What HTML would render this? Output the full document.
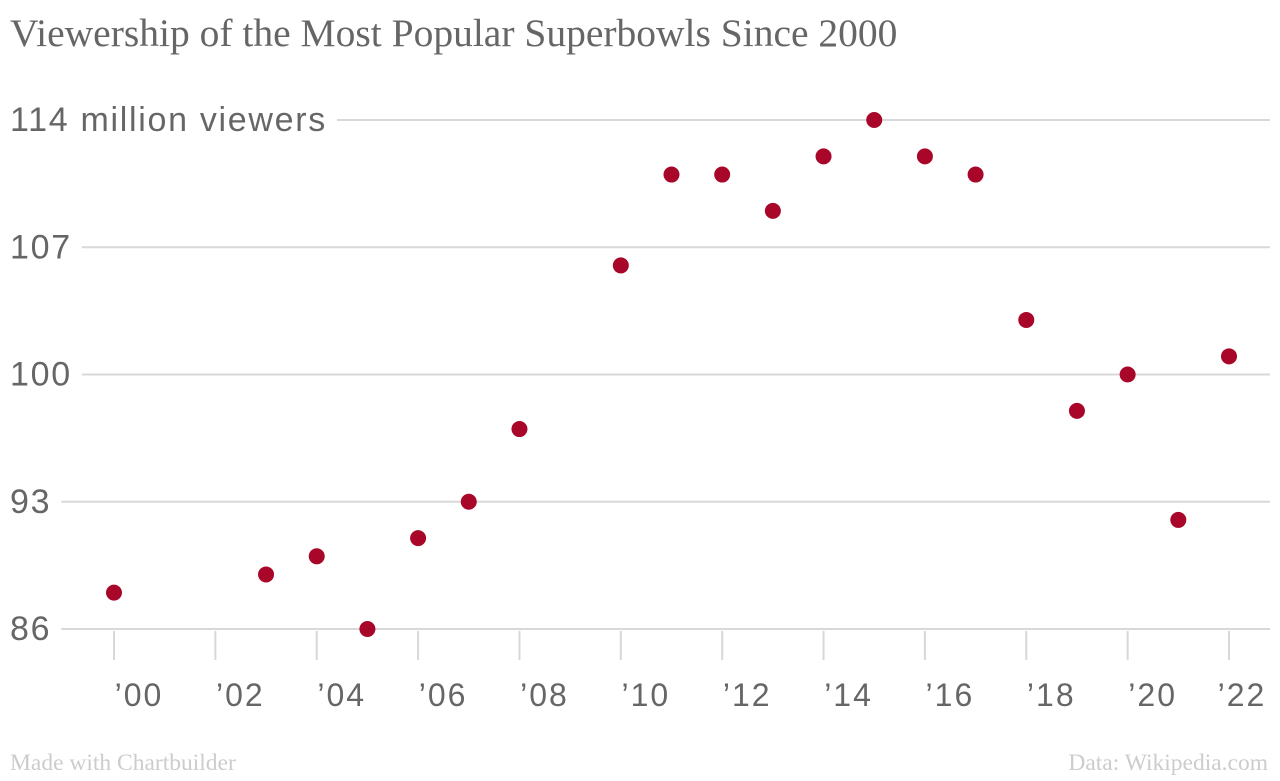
<!DOCTYPE html>
<html><head><meta charset="utf-8"><style>
html,body{margin:0;padding:0;background:#fff;}
svg text{font-family:"Liberation Sans",sans-serif;}
</style></head><body>
<svg id="chart" width="1280" height="776" xmlns="http://www.w3.org/2000/svg">
<text x="10" y="46" style="font-family:'Liberation Serif',serif" font-size="39.5" fill="#666">Viewership of the Most Popular Superbowls Since 2000</text>
<g id="grid"></g>
<g id="xaxis"></g>
<g id="pts"></g>
<text x="10" y="770" style="font-family:'Liberation Serif',serif" font-size="23.5" fill="#ccc">Made with Chartbuilder</text>
<text x="1268" y="770" text-anchor="end" style="font-family:'Liberation Serif',serif" font-size="23.5" fill="#ccc">Data: Wikipedia.com</text>
</svg>
<script>
const years=[2000,2003,2004,2005,2006,2007,2008,2010,2011,2012,2013,2014,2015,2016,2017,2018,2019,2020,2021,2022];
const viewers=[88,89,90,86,91,93,97,106,111,111,109,112,114,112,111,103,98,100,92,101];
const yTicks=[114,107,100,93,86];
const yTickLabels=["114 million viewers","107","100","93","86"];
const xTicks=[2000,2002,2004,2006,2008,2010,2012,2014,2016,2018,2020,2022];
const xTickLabels=["\u201900","\u201902","\u201904","\u201906","\u201908","\u201910","\u201912","\u201914","\u201916","\u201918","\u201920","\u201922"];
const NS="http://www.w3.org/2000/svg";
const x=v=>114+(v-2000)*(1229-114)/22;
const y=v=>120+(114-v)*(629-120)/28;
function mk(tag,attrs,parent){const e=document.createElementNS(NS,tag);for(const k in attrs)e.setAttribute(k,attrs[k]);parent.appendChild(e);return e;}
const grid=document.getElementById('grid');
yTicks.forEach((t,i)=>{
  const tx=mk('text',{x:10,y:y(t),'dominant-baseline':'central','font-size':34,fill:'#666','letter-spacing':1.7},grid);
  
  
  tx.textContent=yTickLabels[i];
  const w=tx.getComputedTextLength();
  const ln=mk('line',{x1:10+w+10,x2:1270,y1:y(t),y2:y(t),stroke:'#d8d8d8','stroke-width':2},grid);
  
  
});
const xa=document.getElementById('xaxis');
xTicks.forEach((t,i)=>{
  const ln=mk('line',{x1:x(t),x2:x(t),y1:631,y2:660,stroke:'#d8d8d8','stroke-width':2},xa);
  
  
  let cx=x(t)+25;
  if(cx>1242)cx=1242;
  const tx=mk('text',{x:cx,y:706,'text-anchor':'middle','font-size':32,fill:'#666','letter-spacing':2},xa);
  
  
  tx.textContent=xTickLabels[i];
});
const pts=document.getElementById('pts');
years.forEach((yr,i)=>{
  const c=mk('circle',{cx:x(yr),cy:y(viewers[i]),r:8,fill:'#a8072a'},pts);
  
  
});
</script>
</body></html>
